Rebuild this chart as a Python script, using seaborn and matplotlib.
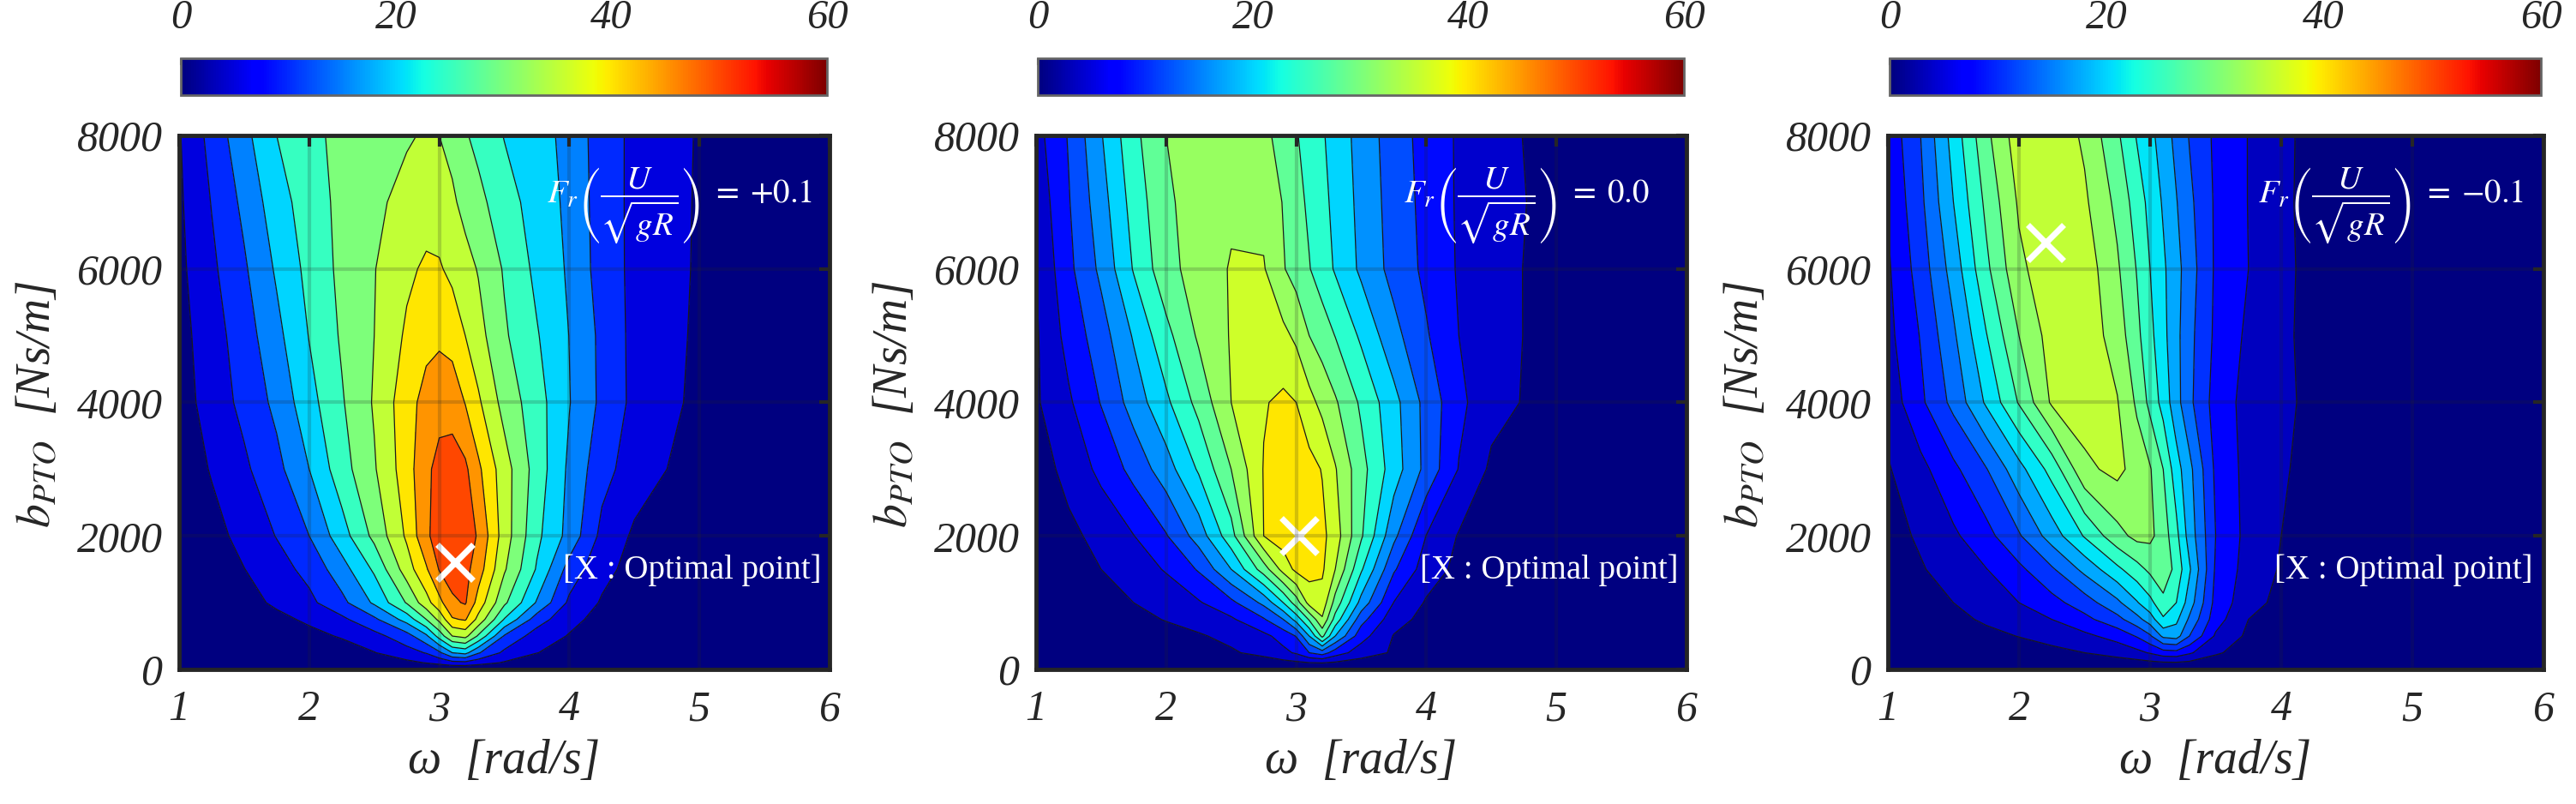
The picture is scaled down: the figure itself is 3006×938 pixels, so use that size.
import numpy as np
import matplotlib
matplotlib.use("Agg")
import matplotlib.pyplot as plt
import seaborn as sns
from matplotlib.colors import Normalize
from matplotlib.cm import ScalarMappable

# grid: rows follow b_pto, columns follow omega
omega = [1.0, 1.25, 1.5, 1.75, 2.0, 2.25, 2.5, 2.75, 2.9, 3.0,
         3.1, 3.2, 3.3, 3.5, 3.75, 4.0, 4.25, 4.5, 5.0, 6.0]
b_pto = [0, 100, 250, 500, 750, 1000, 1500, 2000, 3000, 4000, 5000, 6000, 7000, 8000]

power_fr_pos = [
    [0] * 20,
    [0, 0.1, 0.3, 0.5, 0.8, 1.2, 2, 3.8, 5.2, 6.5, 8.3, 8.6, 7, 4.5, 2.5, 1.5, 0.9, 0.5, 0.1, 0],
    [0, 0.3, 0.7, 1.2, 1.8, 2.8, 4.8, 8, 10.3, 14, 20, 21.5, 15.5, 8.9, 5.1, 3.2, 2, 1.2, 0.3, 0],
    [0.1, 0.6, 1.5, 2.5, 3.7, 5.4, 8.3, 13, 19, 27, 35, 36.5, 29.3, 14.5, 7.5, 4.7, 2.8, 1.6, 0.4, 0.1],
    [0.2, 1, 2.3, 3.8, 5.8, 8.9, 14, 22, 30, 36.3, 44.5, 45.5, 38.5, 24.7, 12.5, 6.3, 3.5, 2, 0.6, 0.1],
    [0.3, 1.5, 3.3, 5.8, 8.8, 13.6, 20.8, 30.4, 38, 43.5, 49, 50.5, 43, 31, 19.5, 9, 4.5, 2.5, 0.8, 0.2],
    [0.5, 2.2, 4.9, 8, 11.5, 17.9, 25.8, 37.5, 44.4, 50.3, 52.5, 51.5, 47.5, 35.6, 24.5, 13, 6.5, 3.3, 1, 0.2],
    [0.8, 3.2, 6.6, 10.2, 15, 22.8, 31.3, 40.8, 49, 52.5, 53.5, 52.5, 49.5, 37.5, 26.2, 18.3, 8.6, 4.2, 1.5, 0.3],
    [1.5, 5.4, 9.1, 13.5, 20, 27.9, 34.5, 42.7, 49, 51.5, 52, 51, 46, 37.2, 27.8, 19, 11.8, 7.5, 2.5, 0.5],
    [2.5, 7.3, 11.3, 16.3, 23.2, 29.5, 35.5, 43, 46.8, 48.3, 48.2, 44.8, 40.8, 33.2, 27.1, 20.2, 13.9, 8.7, 3.8, 0.8],
    [3.2, 7.8, 12.6, 18.6, 25.2, 30.6, 35, 40.8, 43.5, 44, 43, 40, 36.8, 30.7, 25.4, 19.9, 13.8, 8.6, 4.2, 1],
    [3.8, 9, 14.3, 20.7, 26.5, 31.2, 34.8, 39, 40.8, 40.5, 38.8, 36.7, 34.7, 29.5, 23.8, 19.3, 12.7, 8.8, 4.4, 1],
    [4.2, 10.2, 16.2, 22.8, 27.5, 31.3, 34, 36.5, 37.8, 37.6, 35.8, 33.5, 31.5, 27, 23, 18.8, 12.6, 8.8, 4.5, 1],
    [4.6, 11.7, 18.5, 25, 28.5, 31.5, 33, 34.5, 35.5, 35, 33.5, 30.5, 28.5, 24.8, 22, 18.5, 12.4, 8.9, 4.6, 1],
]

power_fr_zero = [
    [0] * 20,
    [0, 0.1, 0.2, 0.4, 0.6, 0.9, 1.4, 2, 2.8, 3.3, 3.9, 4.1, 3.5, 2.4, 1.3, 0.6, 0.3, 0.2, 0, 0],
    [0, 0.2, 0.5, 0.9, 1.3, 2, 3.5, 5.2, 7, 8.5, 12, 14, 10, 6, 3.5, 1.5, 0.8, 0.4, 0.1, 0],
    [0, 0.4, 1, 1.8, 2.6, 3.6, 5, 7, 9.5, 12.2, 20, 29, 20, 9.5, 3.8, 2, 1.1, 0.6, 0.1, 0],
    [0.1, 0.7, 1.8, 2.9, 4.2, 5.5, 7.4, 11.6, 16, 21.5, 28.5, 35.5, 26.5, 13.5, 5.5, 2.8, 1.6, 0.9, 0.2, 0],
    [0.2, 1, 2.5, 4, 5.8, 7.6, 11, 17, 24, 30, 37.5, 38.5, 30.5, 18.6, 7.9, 3.6, 2, 1.2, 0.3, 0],
    [0.4, 2, 4, 6.2, 8.3, 12.4, 20, 30, 37.5, 41, 41.5, 40.6, 36, 24.5, 12.5, 6, 3, 1.7, 0.5, 0.1],
    [0.7, 2.8, 5.5, 7.9, 11.7, 17.8, 26.5, 40, 42, 42.5, 42, 41, 38, 28.5, 17, 7.9, 3.7, 2, 0.6, 0.1],
    [1.5, 5.6, 8.9, 13.3, 18.2, 24.5, 32, 40.2, 42, 42.3, 41.3, 39.8, 36.3, 29.4, 22, 14.8, 7.8, 3.3, 1, 0.2],
    [3.5, 7.4, 12.2, 17.7, 23.2, 29.3, 36, 39.7, 40.8, 40, 37.3, 34.8, 32.5, 27.3, 21.3, 14.7, 9, 5.3, 2.3, 0.5],
    [3.5, 9.4, 14.2, 20.4, 26.8, 32.6, 36.3, 38.5, 37, 35.2, 32, 30.1, 27.9, 23.3, 17.3, 12.4, 8, 5.3, 2.6, 0.8],
    [4, 11, 16.9, 24.3, 30.6, 33.8, 36.3, 36.3, 32.3, 30.3, 28.2, 25.9, 23.6, 19.2, 14.6, 11.1, 7.6, 5.1, 2.8, 1],
    [5.2, 11.7, 18.3, 25.6, 31.3, 33.8, 35.3, 34.8, 31.8, 29.3, 27.3, 25.1, 23, 18.8, 14.3, 10.8, 7.5, 5.3, 2.9, 1],
    [6.5, 12.3, 19.7, 26.9, 32, 33.5, 34, 33, 30.5, 28.3, 26.4, 24.4, 22.5, 18.4, 14, 10.5, 7.5, 4.9, 3, 1],
]

power_fr_neg = [
    [0] * 20,
    [0, 0.1, 0.3, 0.5, 0.7, 1, 1.4, 1.9, 2.3, 2.7, 3.1, 3.2, 2.8, 1.7, 0.8, 0.4, 0.2, 0.1, 0, 0],
    [0.1, 0.4, 0.8, 1.3, 1.9, 2.6, 3.5, 4.8, 6, 7.3, 9, 9.3, 7.5, 4, 1.8, 1, 0.6, 0.3, 0.1, 0],
    [0.3, 0.9, 1.7, 2.6, 3.6, 4.7, 6.2, 8.3, 10.8, 13.5, 18.3, 19, 14, 6.5, 2.8, 1.6, 1, 0.6, 0.2, 0],
    [0.5, 1.4, 2.6, 4, 5.5, 7, 9.5, 12.9, 16.3, 19.3, 24, 21.8, 16.9, 8.5, 3.5, 2.2, 1.3, 0.8, 0.2, 0],
    [0.8, 2, 3.5, 4.8, 7, 9.3, 12.3, 16.7, 20.7, 23.5, 27, 24.5, 19.3, 9.3, 4.8, 2.5, 1.6, 1, 0.3, 0.1],
    [1.5, 3.2, 5, 6.9, 9.7, 13.5, 18.5, 23.7, 26.7, 28.8, 30.5, 26.8, 21.5, 10, 5.5, 3.2, 2, 1.2, 0.4, 0.1],
    [2.2, 4, 6.4, 9.3, 13.6, 19.1, 24.8, 30.3, 32.5, 32.3, 29.8, 25.5, 19.5, 10.5, 5.8, 3.5, 2.2, 1.3, 0.5, 0.2],
    [3.2, 6, 9.7, 13.8, 19.8, 25.8, 34.2, 36, 33.5, 31.8, 28, 22.5, 18.5, 9.8, 5.8, 3.9, 2.4, 1.5, 0.6, 0.2],
    [4.8, 9.8, 15, 21.5, 28.3, 35.5, 36.8, 35.2, 30.9, 27, 23.2, 18.8, 14.8, 9.1, 5.7, 4.3, 2.6, 1.6, 0.7, 0.3],
    [6, 10.7, 16.9, 24.3, 31.5, 36.5, 37.2, 33.4, 28.9, 25.5, 22, 18.5, 15, 9.8, 6.3, 4.2, 2.4, 1.6, 0.8, 0.3],
    [6.5, 12.1, 19, 27.2, 34.2, 37.3, 37, 32, 27.8, 24.5, 21.6, 18.7, 15.6, 10, 7, 4.3, 2.5, 1.6, 0.8, 0.3],
    [7.2, 13.2, 21, 28.8, 35.5, 37.6, 35.6, 30.6, 26.4, 23.4, 20.6, 17.7, 14.8, 10, 6.9, 4.2, 2.4, 1.5, 0.8, 0.3],
    [8, 14, 22.4, 30.6, 37, 37.5, 34.4, 28.6, 24.2, 22, 19.3, 16.5, 13.8, 9.8, 6.9, 4.3, 2.4, 1.5, 0.8, 0.3],
]

fields = [power_fr_pos, power_fr_zero, power_fr_neg]
level_steps = [5, 4, 3.5]
froude_labels = ["{+}0.1", "0.0", "{-}0.1"]
opt_omega = [3.12, 3.02, 2.2]
opt_b = [1600, 2000, 6400]
cbar_ticks = [0, 20, 40, 60]

sns.set_theme(style="white")
plt.rcParams['font.family'] = ['Liberation Serif', 'DejaVu Serif']
plt.rcParams['mathtext.fontset'] = 'stix'

jet = matplotlib.colormaps['jet']
W, H = 3006, 938
fig = plt.figure(figsize=(W / 100, H / 100), dpi=100)

ax_left = [209, 1209, 2203]
ax_w = [759, 759, 765]
cb_left = [211, 1211, 2205]
cb_w = [754, 754, 760]

for i in range(3):
    Z = np.array(fields[i], dtype=float)
    step = level_steps[i]
    n = int(np.ceil(Z.max() / step))
    levels = step * np.arange(n + 1)
    band_colors = [jet(v / 60) for v in levels[:-1]]

    ax = fig.add_axes([ax_left[i] / W, (H - 781) / H, ax_w[i] / W, 623 / H])
    ax.contourf(omega, b_pto, Z, levels=levels, colors=band_colors)
    ax.contour(omega, b_pto, Z, levels=levels[1:-1], colors='k', linewidths=0.9)

    ax.plot(opt_omega[i], opt_b[i], ls='none', marker='x', color='w', markersize=30, mew=5)

    ax.text(0.565, 0.868, r'$F_r\left(\dfrac{U}{\sqrt{gR}}\right)\; =\; ' + froude_labels[i] + '$',
            transform=ax.transAxes, color='w', fontsize=28, ha='left', va='center')
    ax.text(0.59, 0.185, '[X : Optimal point]', transform=ax.transAxes, color='w',
            fontsize=28, ha='left', va='center')

    ax.set_xlim(1, 6)
    ax.set_ylim(0, 8000)
    ax.set_xticks([1, 2, 3, 4, 5, 6])
    ax.set_yticks([0, 2000, 4000, 6000, 8000])
    ax.grid(True, color='0.15', alpha=0.2, linewidth=3)
    ax.set_axisbelow(False)
    ax.tick_params(direction='in', length=9, width=3, top=True, right=True,
                   labelsize=36, color='#262626')
    ax.tick_params(axis='x', pad=17)
    ax.tick_params(axis='y', pad=14)
    for lab in ax.get_xticklabels() + ax.get_yticklabels():
        lab.set_fontstyle('italic')
    for sp in ax.spines.values():
        sp.set_linewidth(3.5)
        sp.set_color('#262626')

    ax.set_xlabel('\u03c9  [rad/s]', fontsize=40, fontstyle='italic')
    ax.xaxis.set_label_coords(0.5, -0.13)
    ax.set_ylabel(r'$b_{PTO}$  [Ns/m]', fontsize=40, fontstyle='italic')
    ax.yaxis.set_label_coords(-0.183, 0.496)

    cax = fig.add_axes([cb_left[i] / W, (H - 111) / H, cb_w[i] / W, 43 / H])
    cb = fig.colorbar(ScalarMappable(norm=Normalize(0, 60), cmap=jet), cax=cax,
                      orientation='horizontal', ticks=cbar_ticks)
    cax.xaxis.set_ticks_position('top')
    cax.tick_params(direction='in', length=6, width=1.5, color='0.4', labelsize=35, pad=18)
    for lab in cax.get_xticklabels():
        lab.set_fontstyle('italic')
    cb.outline.set_edgecolor('0.4')
    cb.outline.set_linewidth(2)

fig.savefig('out.png', dpi=100)
